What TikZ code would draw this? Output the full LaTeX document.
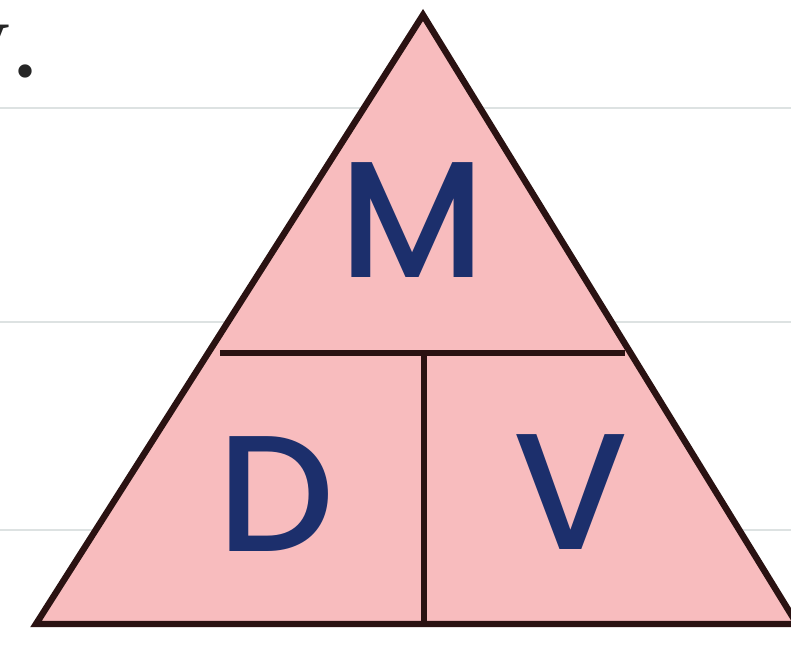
\documentclass[tikz,border=0pt]{standalone}
\usepackage{fontspec}
\setmainfont{Poppins}[UprightFont={* Medium}]
\newfontfamily\notefont{Liberation Serif}
\definecolor{trifill}{HTML}{F8BCBE}
\definecolor{triline}{HTML}{2A1212}
\definecolor{letterblue}{HTML}{1C2F6C}
\definecolor{ruleline}{HTML}{DDE2E2}

\begin{document}
\begin{tikzpicture}[x=0.75pt,y=-0.75pt]
\path[use as bounding box] (0,0) rectangle (791,644);
\fill[white] (0,0) rectangle (791,644);
% ruled lines of the page
\foreach \ry in {108,322,530}
  \draw[ruleline,line width=1.6pt] (0,\ry) -- (791,\ry);
\node[anchor=base east,inner sep=0pt,text=black!85,font=\notefont\fontsize{84}{90}\selectfont] (note) at (40,76) {y\kern2pt.};
% the triangle
\coordinate (top) at (423,15);
\coordinate (left) at (36,624);
\coordinate (right) at (797,624);
\filldraw[fill=trifill,draw=triline,line width=4.8pt,line join=miter] (top) -- (left) -- (right) -- cycle;
\coordinate (barl) at (220,353);
\coordinate (barr) at (625,353);
\coordinate (barm) at (424,353);
\coordinate (barb) at (424,624);
\draw[triline,line width=5pt] (barl) -- (barr);
\draw[triline,line width=5pt] (barm) -- (barb);
\node[text=letterblue,inner sep=0pt,font=\fontsize{124}{130}\selectfont] (mass) at (412,220) {M};
\node[text=letterblue,inner sep=0pt,font=\fontsize{124}{130}\selectfont] (dens) at (276,494) {D};
\node[text=letterblue,inner sep=0pt,font=\fontsize{124}{130}\selectfont] (vol) at (571,492) {V};
\end{tikzpicture}
\end{document}
